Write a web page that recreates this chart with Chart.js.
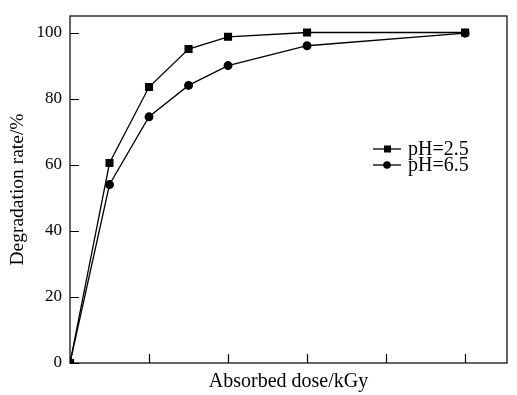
<!DOCTYPE html>
<html>
<head>
<meta charset="utf-8">
<script src="https://cdn.jsdelivr.net/npm/chart.js@4/dist/chart.umd.min.js"></script>
<style>
  html, body { margin: 0; padding: 0; background: #fff; }
  #wrap { width: 517px; height: 395px; position: relative; }
</style>
</head>
<body>
<div id="wrap"><canvas id="chart"></canvas></div>
<script>
"use strict";

// dose positions (axis carries no labels in the original)
var dose = [0, 0.5, 1, 1.5, 2, 3, 5];
var ph25 = [0, 60.5, 83.5, 95, 98.7, 100, 100];
var ph65 = [0, 54, 74.5, 84, 90, 96, 99.8];
var yTicks = [0, 20, 40, 60, 80, 100];
var xTicks = [1, 2, 3, 4, 5];

var serif = "'Liberation Serif', 'Times New Roman', serif";

function pts(ys) {
  return dose.map(function (x, i) { return { x: x, y: ys[i] }; });
}

// frame + inward ticks + legend
var framePlugin = {
  id: "frame",
  afterDraw: function (chart) {
    var ctx = chart.ctx, a = chart.chartArea;
    var xs = chart.scales.x, ys = chart.scales.y;
    ctx.save();
    ctx.strokeStyle = "#000";
    ctx.lineWidth = 1.2;
    ctx.strokeRect(a.left, a.top, a.right - a.left, a.bottom - a.top);
    ctx.beginPath();
    yTicks.forEach(function (v) {
      var p = Math.round(ys.getPixelForValue(v)) + 0.5;
      ctx.moveTo(a.left, p);
      ctx.lineTo(a.left + 9, p);
    });
    xTicks.forEach(function (v) {
      var p = Math.round(xs.getPixelForValue(v)) + 0.5;
      ctx.moveTo(p, a.bottom);
      ctx.lineTo(p, a.bottom - 9);
    });
    ctx.stroke();

    // legend
    var lx = a.left + 303, ly = a.top + 133;
    var items = [{ label: "pH=2.5", style: "rect" }, { label: "pH=6.5", style: "circle" }];
    ctx.font = "20px " + serif;
    ctx.textBaseline = "middle";
    ctx.fillStyle = "#000";
    items.forEach(function (it, i) {
      var y = ly + i * 16;
      ctx.beginPath();
      ctx.lineWidth = 1.3;
      ctx.moveTo(lx, y);
      ctx.lineTo(lx + 28, y);
      ctx.stroke();
      if (it.style === "rect") {
        ctx.fillRect(lx + 11, y - 3.5, 7, 7);
      } else {
        ctx.beginPath();
        ctx.arc(lx + 14, y, 3.8, 0, Math.PI * 2);
        ctx.fill();
      }
      ctx.fillText(it.label, lx + 35, y + 1);
    });
    ctx.restore();
  }
};

new Chart(document.getElementById("chart"), {
  type: "scatter",
  data: {
    datasets: [{
      label: "pH=2.5",
      data: pts(ph25),
      showLine: true,
      borderColor: "#000",
      backgroundColor: "#000",
      borderWidth: 1.3,
      pointStyle: "rect",
      pointRadius: 4.8,
      tension: 0
    }, {
      label: "pH=6.5",
      data: pts(ph65),
      showLine: true,
      borderColor: "#000",
      backgroundColor: "#000",
      borderWidth: 1.3,
      pointStyle: "circle",
      pointRadius: 3.8,
      tension: 0
    }]
  },
  options: {
    responsive: true,
    maintainAspectRatio: false,
    animation: false,
    layout: { padding: { top: 16, right: 10, left: 0, bottom: 1 } },
    plugins: { legend: { display: false }, tooltip: { enabled: false } },
    scales: {
      x: {
        type: "linear",
        min: 0,
        max: 5.53,
        grid: { display: false },
        border: { display: false },
        ticks: { display: false },
        title: {
          display: true,
          text: "Absorbed dose/kGy",
          color: "#000",
          font: { family: serif, size: 20 },
          padding: { top: 0, bottom: 0 }
        },
        afterFit: function (s) { s.height = 31; }
      },
      y: {
        min: 0,
        max: 105,
        afterBuildTicks: function (s) {
          s.ticks = yTicks.map(function (v) { return { value: v }; });
        },
        grid: { display: false, drawTicks: true, tickLength: 8 },
        border: { display: false },
        ticks: {
          color: "#000",
          font: { family: serif, size: 17 },
          padding: 0
        },
        title: {
          display: true,
          text: "Degradation rate/%",
          color: "#000",
          font: { family: serif, size: 19.5 },
          padding: { top: 6, bottom: 0 }
        },
        afterFit: function (s) { s.width = 70; }
      }
    }
  },
  plugins: [framePlugin]
});
</script>
</body>
</html>
